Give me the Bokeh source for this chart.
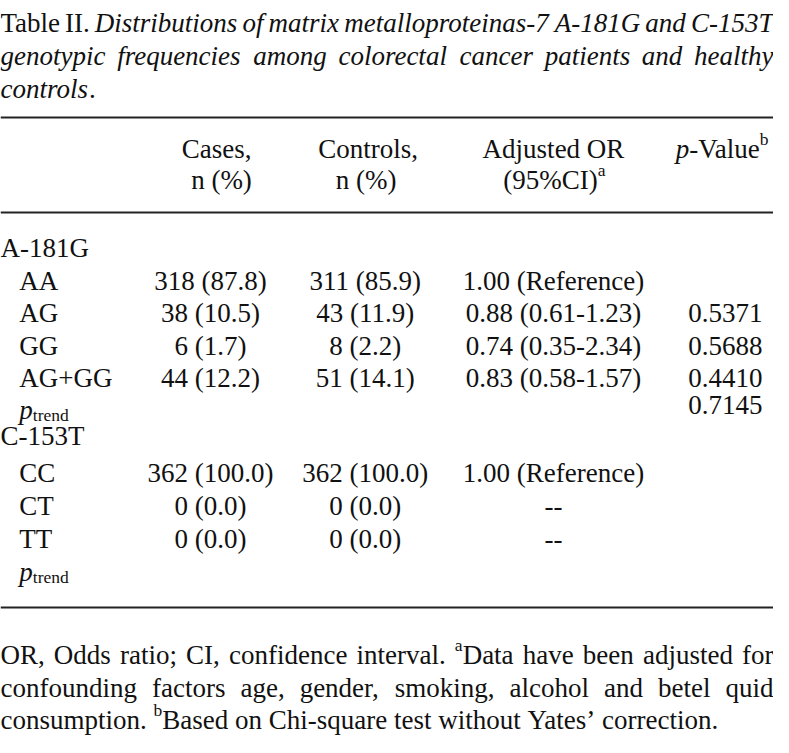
from bokeh.plotting import figure
from bokeh.models import Range1d, ColumnDataSource
from bokeh.core.properties import value
from bokeh.embed import file_html
from bokeh.resources import INLINE

# ---------------- data ----------------
title_lines = [
    [("Table II. ", "normal", "n"),
     ("Distributions of matrix metalloproteinas-7 A-181G and C-153T", "italic", "n")],
    [("genotypic frequencies among colorectal cancer patients and healthy", "italic", "n")],
    [("controls", "italic", "n"), (".", "normal", "n")],
]
header_row1 = ["Cases,", "Controls,", "Adjusted OR"]
header_row2 = ["n (%)", "n (%)"]

group_labels = ["A-181G", "C-153T"]
genotypes_a = ["AA", "AG", "GG", "AG+GG"]
cases_a = ["318 (87.8)", "38 (10.5)", "6 (1.7)", "44 (12.2)"]
controls_a = ["311 (85.9)", "43 (11.9)", "8 (2.2)", "51 (14.1)"]
or_a = ["1.00 (Reference)", "0.88 (0.61-1.23)", "0.74 (0.35-2.34)", "0.83 (0.58-1.57)"]
pval_a = ["", "0.5371", "0.5688", "0.4410"]
ptrend_a = "0.7145"

genotypes_c = ["CC", "CT", "TT"]
cases_c = ["362 (100.0)", "0 (0.0)", "0 (0.0)"]
controls_c = ["362 (100.0)", "0 (0.0)", "0 (0.0)"]
or_c = ["1.00 (Reference)", "--", "--"]
pval_c = ["", "", ""]
ptrend_c = ""

footnote_lines = [
    [("OR, Odds ratio; CI, confidence interval. ", "normal", "n"), ("a", "normal", "sup"),
     ("Data have been adjusted for", "normal", "n")],
    [("confounding factors age, gender, smoking, alcohol and betel quid", "normal", "n")],
    [("consumption. ", "normal", "n"), ("b", "normal", "sup"),
     ("Based on Chi-square test without Yates\u2019 correction.", "normal", "n")],
]

# ---------------- layout ----------------
FONT = "Liberation Serif"
W, H = 773, 737
X0, X1 = 3, 783            # reference x span mapped onto the frame
Y0, Y1 = 8, 745            # reference y span (1:1)
SX = W / (X1 - X0)
FS = 27.0                  # main font size, px
FS_SMALL = 17.5            # super/subscript, px
SUP_DY = -9.5
SUB_DY = 5.5
INK = "#111111"

LEFT, RIGHT = 3, 783
COL_CASES, COL_CTRL, COL_OR, COL_P = 215, 371, 561, 772

def parse(spec):
    d = {}
    for tok in spec.split():
        d[tok[0]] = int(tok[1:])
    return d

COMMON = ("0500 1500 2500 3500 4500 5500 6500 7500 8500 9500 ,250 .250 ;278 :278 "
          "-333 (333 )333 %833 +564 \u2019333 '180")
ROMAN = parse("A722 B667 C667 D722 E611 F556 G722 H722 I333 J389 K722 L611 M889 N722 O722 "
              "P556 Q722 R667 S556 T611 U722 V722 W944 X722 Y722 Z611 a444 b500 c444 d500 "
              "e444 f333 g500 h500 i278 j278 k500 l278 m778 n500 o500 p500 q500 r333 s389 "
              "t278 u500 v500 w722 x500 y500 z444 " + COMMON)
ITALIC = parse("A611 B611 C667 D722 E611 F611 G722 H722 I333 J444 K667 L556 M833 N667 O722 "
               "P611 Q722 R611 S500 T556 U722 V611 W833 X611 Y556 Z556 a500 b500 c444 d500 "
               "e444 f278 g500 h500 i278 j278 k444 l278 m722 n500 o500 p500 q500 r389 s389 "
               "t278 u500 v444 w667 x444 y444 z389 " + COMMON)
ROMAN[" "] = ITALIC[" "] = 250
KERN = {"Va": -111, "Ta": -80, "Ya": -100}

def size_of(pos):
    return FS if pos == "n" else FS_SMALL

def width(txt, style, pos):
    tab = ITALIC if style == "italic" else ROMAN
    w = sum(tab.get(ch, 500) for ch in txt)
    if style != "italic":
        w += sum(KERN.get(txt[i:i + 2], 0) for i in range(len(txt) - 1))
    return w * size_of(pos) / 1000.0 / SX

groups = {}

def put(x, y, txt, style, pos):
    key = (style, pos)
    g = groups.setdefault(key, {"x": [], "y": [], "text": []})
    dy = SUP_DY if pos == "sup" else (SUB_DY if pos == "sub" else 0)
    g["x"].append(x)
    g["y"].append(y + dy)
    g["text"].append(txt)

def draw_runs(runs, x, y, align="left", justify_to=None):
    items = []
    for (t, style, pos) in runs:
        parts = t.split(" ")
        for i, part in enumerate(parts):
            if i > 0:
                items.append(("space", style, pos))
            if part:
                items.append(("word", part, style, pos))
    natural = 0.0
    nsp = 0
    for it in items:
        if it[0] == "space":
            natural += width(" ", it[1], it[2])
            nsp += 1
        else:
            natural += width(it[1], it[2], it[3])
    extra = 0.0
    if justify_to is not None and nsp:
        extra = (justify_to - x - natural) / nsp
    if align == "center":
        x = x - natural / 2.0
    elif align == "right":
        x = x - natural
    for it in items:
        if it[0] == "space":
            x += width(" ", it[1], it[2]) + extra
        else:
            put(x, y, it[1], it[2], it[3])
            x += width(it[1], it[2], it[3])

# title
TITLE_Y = [30, 63, 96]
for i, runs in enumerate(title_lines):
    draw_runs(runs, LEFT, TITLE_Y[i], justify_to=RIGHT if i < 2 else None)

# header
HEAD_Y = [156, 187]
for c, txt in zip([221, 374, 561], header_row1):
    draw_runs([(txt, "normal", "n")], c, HEAD_Y[0], align="center")
draw_runs([("p", "italic", "n"), ("-Value", "normal", "n"), ("b", "normal", "sup")],
          778, HEAD_Y[0], align="right")
for c, txt in zip([226, 372], header_row2):
    draw_runs([(txt, "normal", "n")], c, HEAD_Y[1], align="center")
draw_runs([("(95%CI)", "normal", "n"), ("a", "normal", "sup")], 562, HEAD_Y[1], align="center")

# body
body = {"label": [], "lx": [], "y": [], "cases": [], "ctrl": [], "or": [], "p": []}

def add_block(gy, label, gts, cs, ct, ors, ps, trend, row_y, trend_y):
    put(LEFT, gy, label, "normal", "n")
    for i in range(len(gts)):
        body["label"].append(gts[i]); body["lx"].append(22); body["y"].append(row_y[i])
        body["cases"].append(cs[i]); body["ctrl"].append(ct[i])
        body["or"].append(ors[i]); body["p"].append(ps[i])
    draw_runs([("p", "italic", "n"), ("trend", "normal", "sub")], 22, trend_y)
    if trend:
        body["label"].append(""); body["lx"].append(22); body["y"].append(trend_y - 5)
        body["cases"].append(""); body["ctrl"].append("")
        body["or"].append(""); body["p"].append(trend)

add_block(255, group_labels[0], genotypes_a, cases_a, controls_a, or_a, pval_a, ptrend_a,
          [288, 320, 353, 385], 417)
add_block(443, group_labels[1], genotypes_c, cases_c, controls_c, or_c, pval_c, ptrend_c,
          [480, 513, 546], 579)

# footnotes
FOOT_Y = [662, 695, 727]
for i, runs in enumerate(footnote_lines):
    draw_runs(runs, LEFT, FOOT_Y[i], justify_to=RIGHT if i < 2 else None)

# ---------------- figure ----------------
p = figure(width=W, height=H, x_range=Range1d(X0, X1), y_range=Range1d(Y1, Y0),
           output_backend="svg", toolbar_location=None, min_border=0,
           x_axis_location=None, y_axis_location=None)
p.grid.visible = False
p.outline_line_color = None
p.background_fill_color = "white"
p.border_fill_color = "white"

# rules
RULE_Y = [125, 220, 615]
p.segment(x0=[X0] * 3, x1=[RIGHT] * 3, y0=RULE_Y, y1=RULE_Y, line_color="#222222",
          line_width=2.2)

for (style, pos), g in groups.items():
    p.text(x="x", y="y", text="text", source=ColumnDataSource(g),
           text_font=value(FONT), text_font_style=style,
           text_font_size=value("%.2fpx" % size_of(pos)),
           text_align="left", text_baseline="alphabetic", text_color=INK)

src = ColumnDataSource(body)
common = dict(source=src, text_font=value(FONT), text_font_size=value("%.2fpx" % FS),
              text_baseline="alphabetic", text_color=INK)
p.text(x="lx", y="y", text="label", text_align="left", **common)
p.text(x=COL_CASES, y="y", text="cases", text_align="center", **common)
p.text(x=COL_CTRL, y="y", text="ctrl", text_align="center", **common)
p.text(x=COL_OR, y="y", text="or", text_align="center", **common)
p.text(x=COL_P, y="y", text="p", text_align="right", **common)

open("out.html", "w").write(file_html(p, INLINE))
